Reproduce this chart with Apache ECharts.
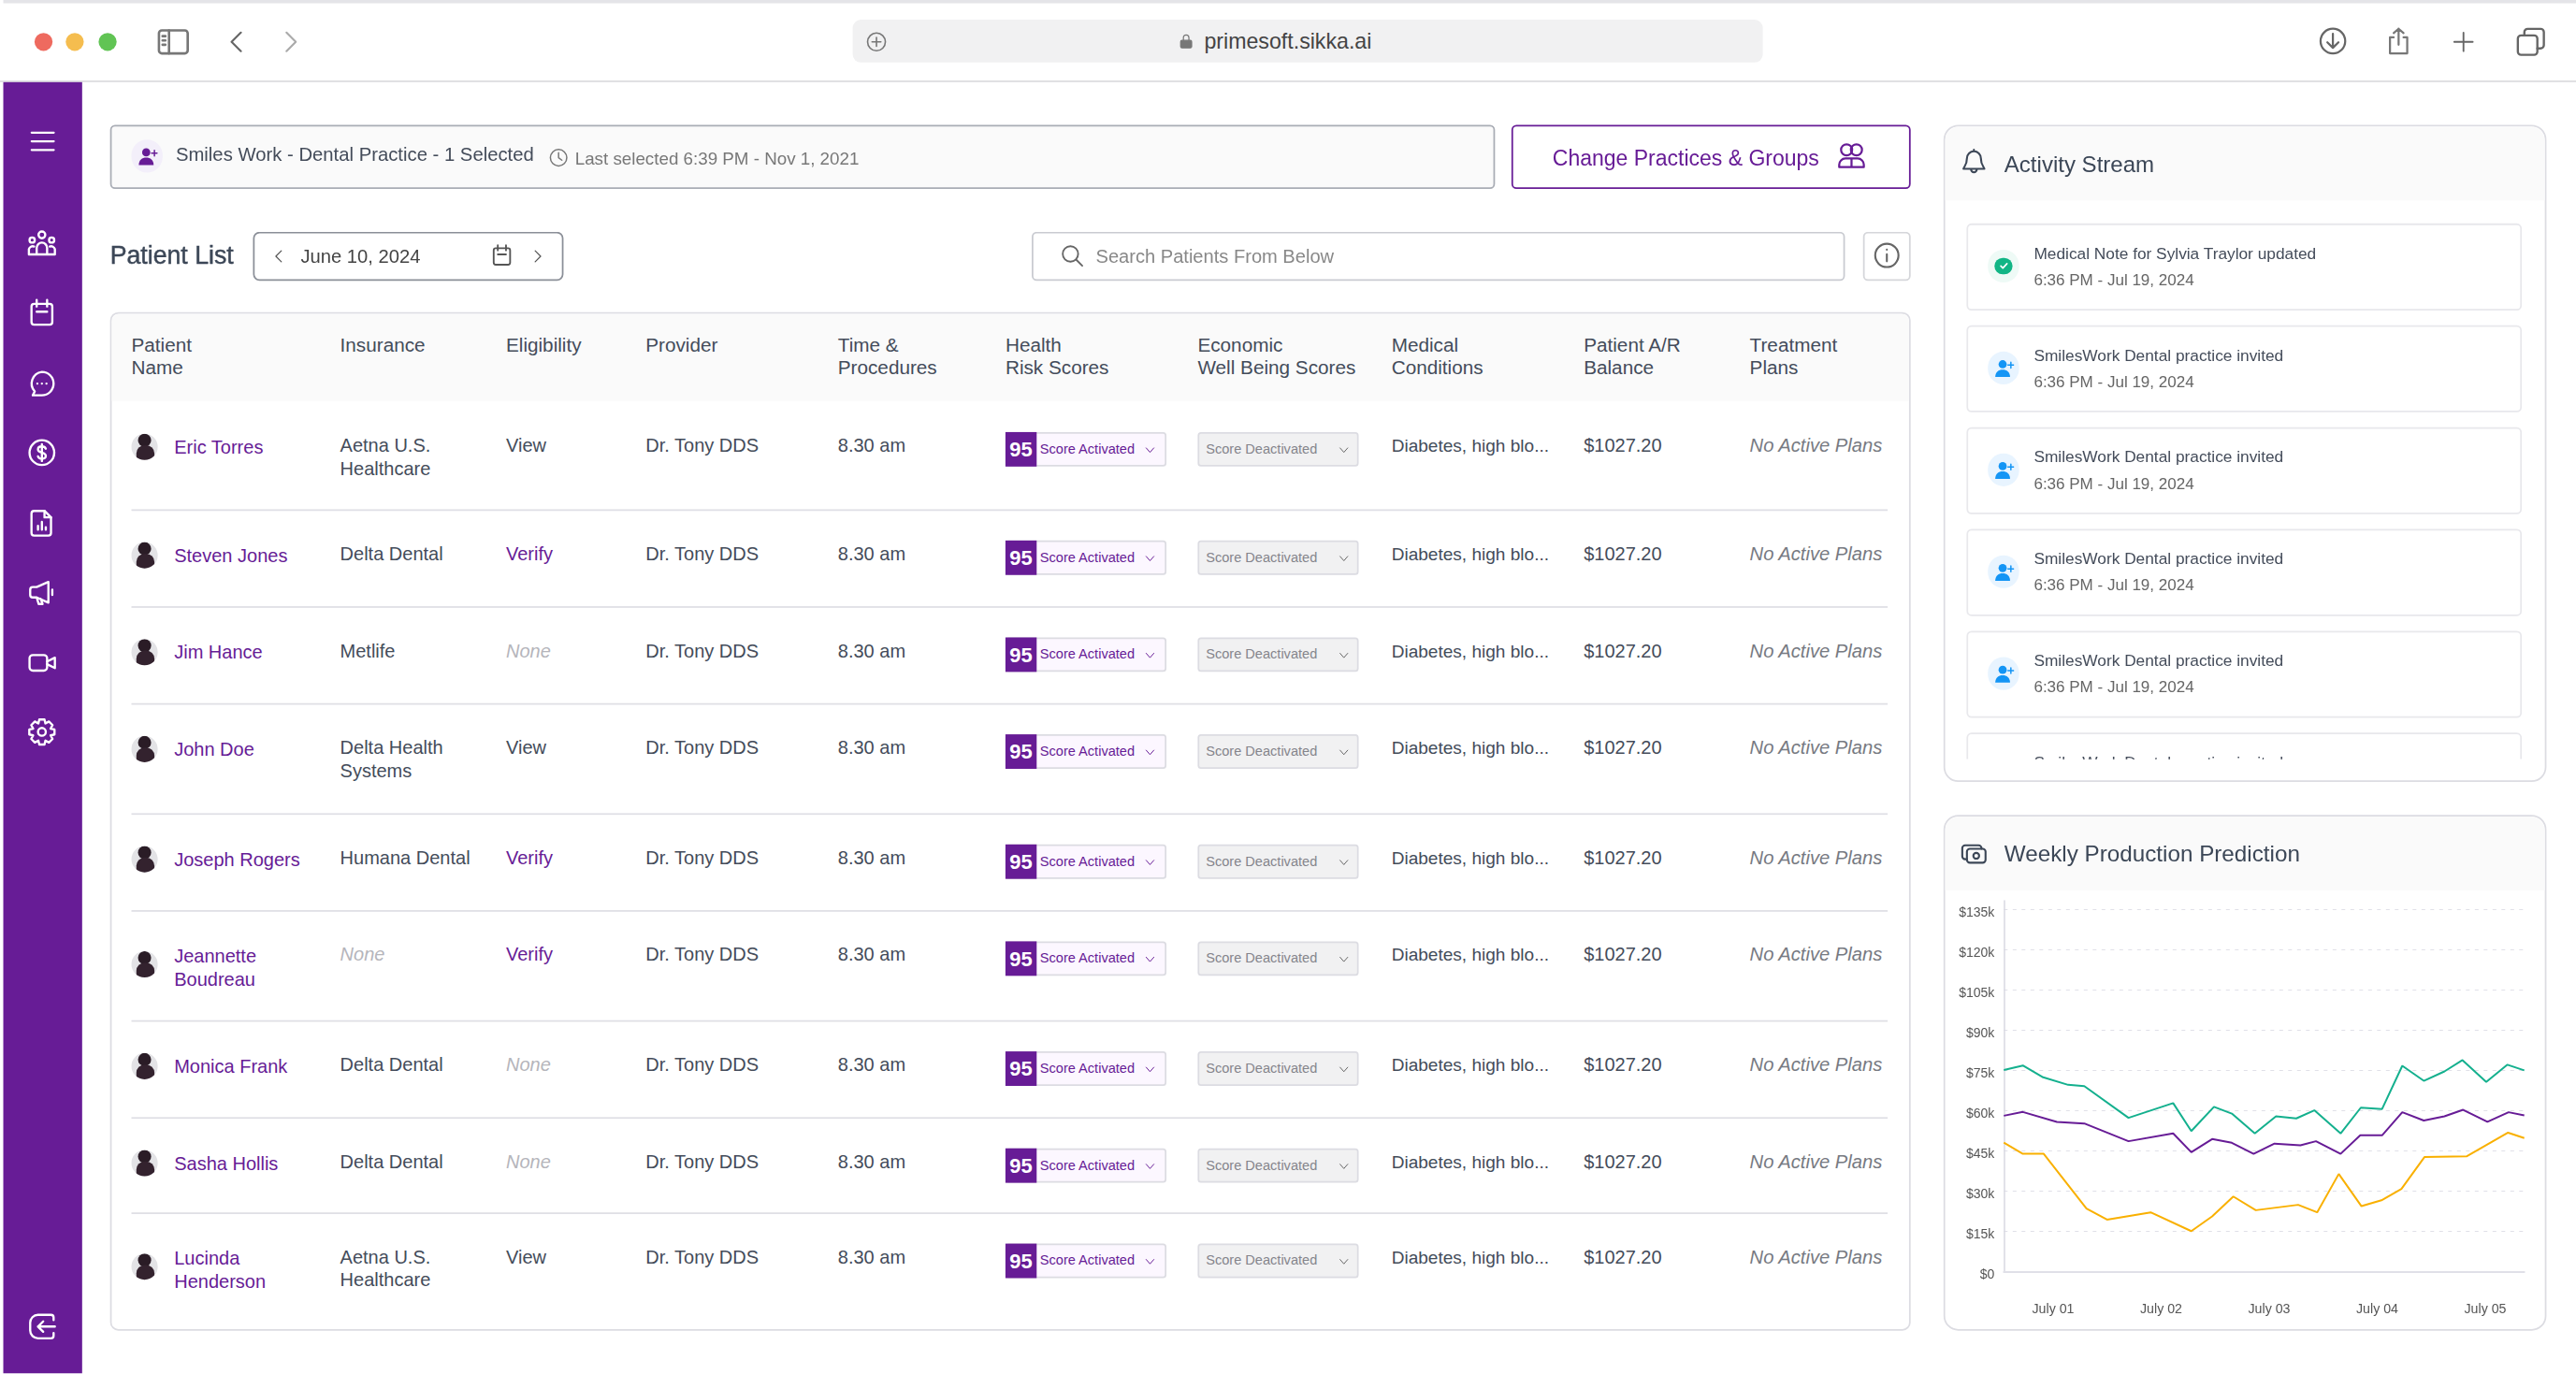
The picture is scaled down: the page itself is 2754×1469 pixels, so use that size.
<!DOCTYPE html>
<html>
<head>
<meta charset="utf-8">
<title>Patient List</title>
<script src="https://cdn.jsdelivr.net/npm/echarts@6/dist/echarts.min.js"></script>
<style>
html,body{margin:0;padding:0;background:#fff;width:2754px;height:1469px;overflow:hidden;font-family:"Liberation Sans",Arial,sans-serif;}
#ui{position:absolute;left:0;top:0;width:1568px;height:836.4px;transform:scale(1.7564);transform-origin:0 0;overflow:hidden;}
#ui div,#ui span,#ui svg{position:absolute;box-sizing:border-box;}
#ui span{white-space:nowrap;transform:translateY(-50%);}
#chart{position:absolute;left:2072px;top:950px;width:680px;height:470px;}
</style>
</head>
<body>
<div id="ui"></div>
<div id="chart"></div>
<script>
// chart values (x = day of July, y = $k)
var xLabels = ['July 01','July 02','July 03','July 04','July 05'];
var xTicks = [1,2,3,4,5];
var greenDays = [.544,.72,.908,1.139,1.289,1.698,2.111,2.279,2.489,2.654,2.867,3.063,3.251,3.418,3.661,3.848,4.045,4.232,4.431,4.622,4.789,5.009,5.205,5.361];
var greenValues = [75,76.7,72.3,69.5,69,57.2,62.7,52.3,61.3,58.8,51.4,57.8,57,60,51.4,61,60.5,76.6,71,74.5,78.7,70.6,77,74.9];
var purpleDays = [.544,.72,1.035,1.289,1.698,2.111,2.279,2.472,2.654,2.856,3.049,3.289,3.433,3.661,3.843,4.045,4.232,4.431,4.622,4.795,5.02,5.216,5.361];
var purpleValues = [58,59.4,55.7,55.1,48.5,51.4,44.4,49.3,47.9,43.8,47.6,47,48.5,43.8,50.7,50.7,59.3,56.2,57.8,60.2,55.7,59.3,58.1];
var yellowDays = [.544,.72,.913,1.309,1.499,1.903,2.279,2.472,2.668,2.876,3.268,3.444,3.644,3.854,4.039,4.224,4.437,4.83,5.211,5.361];
var yellowValues = [48,43.8,43.8,23.4,19.3,22,15,20.5,27.9,22.8,24.8,22,36.3,24.3,26.5,30.7,42.6,42.9,51.7,49.7];

// table text
var headers = [['Patient','Name'],['Insurance'],['Eligibility'],['Provider'],['Time &','Procedures'],['Health','Risk Scores'],['Economic','Well Being Scores'],['Medical','Conditions'],['Patient A/R','Balance'],['Treatment','Plans']];
var patients = [['Eric Torres'],['Steven Jones'],['Jim Hance'],['John Doe'],['Joseph Rogers'],['Jeannette','Boudreau'],['Monica Frank'],['Sasha Hollis'],['Lucinda','Henderson']];
var insurance = [['Aetna U.S.','Healthcare'],['Delta Dental'],['Metlife'],['Delta Health','Systems'],['Humana Dental'],null,['Delta Dental'],['Delta Dental'],['Aetna U.S.','Healthcare']];
var eligibility = ['View','Verify','None','View','Verify','Verify','None','None','View'];
var activity = ['Medical Note for Sylvia Traylor updated','SmilesWork Dental practice invited','SmilesWork Dental practice invited','SmilesWork Dental practice invited','SmilesWork Dental practice invited','SmilesWork Dental practice invited'];

var ui = document.getElementById('ui');
var purple = '#671c96';
var cellSize = 11.4;

function box(x,y,w,h,css,parent){
    var d = document.createElement('div');
    d.style.cssText = 'left:'+x+'px;top:'+y+'px;width:'+w+'px;height:'+h+'px;'+(css||'');
    (parent||ui).appendChild(d);
    return d;
}
function text(x,y,str,size,color,css,parent){
    var s = document.createElement('span');
    s.textContent = str;
    s.style.cssText = 'left:'+x+'px;top:'+y+'px;font-size:'+size+'px;color:'+color+';'+(css||'');
    (parent||ui).appendChild(s);
    return s;
}
// svg icon centred on x,y, drawn in a 24 box
function icon(x,y,size,color,inner,parent){
    var holder = document.createElement('div');
    holder.style.cssText = 'left:'+(x-size/2)+'px;top:'+(y-size/2)+'px;width:'+size+'px;height:'+size+'px;';
    holder.innerHTML = '<svg viewBox="0 0 24 24" width="'+size+'" height="'+size+'" style="left:0;top:0" fill="none" stroke="'+color+'" stroke-width="1.7" stroke-linecap="round" stroke-linejoin="round">'+inner+'</svg>';
    (parent||ui).appendChild(holder);
}

var icons = {
    menu:'<path d="M3 5h18M3 12h18M3 19h18"/>',
    people:'<circle cx="12" cy="5" r="2.6"/><circle cx="4.5" cy="9" r="2"/><circle cx="19.5" cy="9" r="2"/><path d="M8 20v-5a4 4 0 0 1 8 0v5zM2 20v-4a3 3 0 0 1 4-2M22 20v-4a3 3 0 0 0-4-2M2 20h20"/>',
    calendar:'<rect x="4" y="5" width="16" height="16" rx="2"/><path d="M8 2v5M16 2v5M8 11h8"/>',
    chat:'<path d="M12 3a9 9 0 0 1 0 18H5l1.5-3A9 9 0 0 1 12 3z"/><path d="M8.5 12h.01M12 12h.01M15.5 12h.01"/>',
    dollar:'<circle cx="12" cy="12" r="9.5"/><path d="M15 9c-.5-1.2-1.600-1.800-3-1.800-1.800 0-3 .9-3 2.300 0 3.200 6 1.700 6 5 0 1.400-1.300 2.300-3 2.300-1.500 0-2.600-.7-3-1.900M12 5.500v13"/>',
    report:'<path d="M6 2.500h8l5 5v12a2 2 0 0 1-2 2H6a2 2 0 0 1-2-2v-15a2 2 0 0 1 2-2z"/><path d="M14 2.500v5h5M9 17v-3M12 17v-6M15 17v-2"/>',
    mega:'<path d="M3 10v4a2 2 0 0 0 2 2h3l9 4V4L8 8H5a2 2 0 0 0-2 2zM8 16l1.500 5h3L11 17M20 10v4"/>',
    video:'<rect x="2.500" y="6" width="13.500" height="12" rx="2.500"/><path d="M16 11l6-3v8l-6-3"/>',
    gear:'<circle cx="12" cy="12" r="3"/><path d="M10 2.500h4l.7 3 2.700-1.500 2.800 2.800L18.700 9.500l3 .7v3.800l-3 .7 1.500 2.700-2.800 2.800-2.700-1.500-.7 3h-4l-.7-3-2.700 1.500-2.800-2.800 1.500-2.700-3-.7v-3.800l3-.7L3.800 6.800 6.600 4l2.700 1.500z"/>',
    logout:'<path d="M21 7V5a2 2 0 0 0-2-2H9a6 6 0 0 0-6 6v6a6 6 0 0 0 6 6h10a2 2 0 0 0 2-2v-2"/><path d="M22 12H9M13 8l-4 4 4 4"/>',
    chevL:'<path d="M15 4l-8 8 8 8"/>',
    chevR:'<path d="M9 4l8 8-8 8"/>',
    chevD:'<path d="M5 8l7 8 7-8"/>',
    sidebar:'<rect x="2" y="4" width="20" height="16" rx="2"/><path d="M9 4v16M4.500 8h2M4.500 11h2M4.500 14h2"/>',
    plusC:'<circle cx="12" cy="12" r="10"/><path d="M12 7v10M7 12h10"/>',
    download:'<circle cx="12" cy="12" r="10"/><path d="M12 6v11M7.500 13l4.500 4.500 4.500-4.500"/>',
    share:'<path d="M8 9H5v13h14V9h-3M12 15V2M8 5.500L12 2l4 3.500"/>',
    plus:'<path d="M12 3v18M3 12h18"/>',
    tabs:'<rect x="2" y="7" width="15" height="15" rx="2.500"/><path d="M7 7V4.500A2.500 2.500 0 0 1 9.500 2h10A2.500 2.500 0 0 1 22 4.500v10a2.500 2.500 0 0 1-2.500 2.500H17"/>',
    clock:'<circle cx="12" cy="12" r="10"/><path d="M12 6v6l4 3"/>',
    group:'<circle cx="8" cy="7" r="4.500"/><circle cx="16" cy="7" r="4.500"/><path d="M2 21v-2a5 5 0 0 1 5-5h10a5 5 0 0 1 5 5v2zM12 14v7"/>',
    search:'<circle cx="10.500" cy="10.500" r="7.500"/><path d="M16 16l6 6"/>',
    info:'<circle cx="12" cy="12" r="10"/><path d="M12 11v6M12 7h.01"/>',
    bell:'<path d="M12 3a6 6 0 0 0-6 6c0 6-2.500 7-3 9h18c-.5-2-3-3-3-9a6 6 0 0 0-6-6zM12 3V1.500M9.500 18.500a2.500 2.500 0 0 0 5 0"/>',
    camera:'<path d="M6 17H4.500A2.500 2.500 0 0 1 2 14.500v-7A2.500 2.500 0 0 1 4.500 5H16a2.500 2.500 0 0 1 2.500 2.500V8"/><rect x="6" y="8" width="16" height="12" rx="2.500"/><circle cx="14" cy="14" r="2.500"/>',
    check:'<path d="M6 12.500l4 4L18 8" stroke-width="3"/>'
};
var personAdd = '<circle cx="10" cy="7.500" r="5" fill="COLOR" stroke="none"/><path d="M1 23c0-6 4-9 9-9s9 3 9 9z" fill="COLOR" stroke="none"/><path d="M20 5v7M16.500 8.500h7" stroke="COLOR"/>';

// browser bar
box(2,0,1566,1.5,'background:#e4e4e8;');
box(0,49,1568,1,'background:#dcdce0;');
[[26,'#ee6a5f'],[45,'#f5bd4f'],[65,'#61c454']].forEach(function(l){
    box(l[0]-5.5,19.5,11,11,'border-radius:50%;background:'+l[1]+';');
});
icon(105,25,21,'#777',icons.sidebar);
icon(144,25,17,'#666',icons.chevL);
icon(176,25,17,'#aaa',icons.chevR);
box(519,12,554,26,'background:#f1f1f2;border-radius:5px;');
icon(533,25,13,'#777',icons.plusC);
icon(722,25,10,'#777','<rect x="4" y="11" width="16" height="11" rx="2" fill="#777"/><path d="M8 11V7a4 4 0 0 1 8 0v4"/>');
text(733,24.5,'primesoft.sikka.ai',13.2,'#444');
icon(1420,25,18,'#666',icons.download);
icon(1460,25,18,'#777',icons.share);
icon(1499,25,15,'#666',icons.plus);
icon(1540,25,19,'#666',icons.tabs);

// sidebar
box(2,50,48,787,'background:'+purple+';');
[[85.5,'menu',18],[148,'people',19],[190,'calendar',19],[233,'chat',19],[275,'dollar',19],[318,'report',19],[360,'mega',19],[403,'video',19],[445,'gear',19],[807,'logout',19]].forEach(function(s){
    icon(25.7,s[0],s[2],'#fff',icons[s[1]]);
});

// selected practice strip
box(67,76,843,38.500,'background:#fafafa;border:1px solid #a9adb5;border-radius:3px;');
box(79.700,85.300,19.400,19.400,'background:#f3effa;border-radius:50%;');
icon(89.500,95,12,purple,personAdd.replace(/COLOR/g,purple));
text(107,93.500,'Smiles Work - Dental Practice - 1 Selected',11.55,'#444c5a');
icon(340,95.500,12,'#777',icons.clock);
text(350,96.200,'Last selected 6:39 PM - Nov 1, 2021',10.7,'#777');
box(920,76,242.500,38.500,'background:#fff;border:1px solid '+purple+';border-radius:3px;');
text(945,96.200,'Change Practices & Groups',13.1,purple);
icon(1127,95,18,purple,icons.group);

// patient list title row
text(67,155,'Patient List',15.2,'#3c4757','-webkit-text-stroke:.25px #3c4757;');
box(154,141,189,29.500,'background:#fff;border:1px solid #8b8f98;border-radius:4px;');
icon(170,155.500,10,'#555',icons.chevL);
text(183,156,'June 10, 2024',11.5,'#444');
icon(305.500,155.500,15,'#555',icons.calendar);
icon(327,155.500,10,'#555',icons.chevR);
box(628,141,495,29.500,'background:#fff;border:1px solid #c9cbd1;border-radius:3px;');
icon(652,155.500,15,'#666',icons.search);
text(667,156,'Search Patients From Below',11.45,'#888');
box(1134,141,28.500,29.500,'background:#fff;border:1px solid #d5d6da;border-radius:3px;');
icon(1148,155.500,17,'#666',icons.info);

// table
var rowTops = [244,310,369,428,495,554,621,680,738];
var colX = [80,207,308,393,510,612,729,847,964,1065];
box(67,190,1095.500,619.500,'background:#fff;border:1px solid #dcdce2;border-radius:5px;');
box(68,191,1093.500,53,'background:#fafafa;border-radius:5px 5px 0 0;');
headers.forEach(function(h,i){
    h.forEach(function(line,j){
        text(colX[i],210+j*13.900,line,11.8,'#444c5a');
    });
});
patients.forEach(function(name,i){
    var top = rowTops[i];
    var two = name.length>1;
    if(i>0) box(80,top-.5,1069,1,'background:#dfdfe5;');
    // avatar
    var ay = top+(two?32.500:27.500);
    var av = box(80,ay-8,16,16,'border-radius:50%;background:#e3e3e6;overflow:hidden;');
    box(4,.5,8,8,'border-radius:50%;background:#2a1c26;',av);
    box(2.500,7,11,10,'border-radius:5px 5px 0 0;background:#33222e;',av);
    name.forEach(function(line,j){
        text(106,top+28+j*13.700,line,cellSize,purple);
    });
    if(insurance[i]){
        insurance[i].forEach(function(line,j){
            text(207,top+27+j*13.700,line,cellSize,'#444c5a');
        });
    } else {
        text(207,top+27,'None',cellSize,'#b5b5bb','font-style:italic;');
    }
    var el = eligibility[i];
    text(308,top+27,el,cellSize,el=='Verify'?purple:(el=='None'?'#b5b5bb':'#444c5a'),el=='None'?'font-style:italic;':'');
    text(393,top+27,'Dr. Tony DDS',cellSize,'#444c5a');
    text(510,top+27,'8.30 am',cellSize,'#444c5a');
    // score badges
    var by = top+19.300;
    box(612,by,98,21,'background:#fcf7ff;border:1px solid #dcdce2;border-radius:2px;');
    box(612,by,19,21,'background:'+purple+';');
    text(614.500,by+11,'95',12.500,'#fff','font-weight:bold;');
    text(633,by+9.500,'Score Activated',8.300,purple);
    icon(700,by+10.500,8,purple,icons.chevD);
    box(729,by,98,21,'background:#f1f1f2;border:1px solid #dcdce2;border-radius:2px;');
    text(734,by+10,'Score Deactivated',8.300,'#85858c');
    icon(817.500,by+10.500,8,'#666',icons.chevD);
    text(847,top+27,'Diabetes, high blo...',10.850,'#444c5a');
    text(964,top+27,'$1027.20',cellSize,'#444c5a');
    text(1065,top+27,'No Active Plans',11.5,'#777a82','font-style:italic;');
});

// activity stream
box(1183,76,366.500,400,'background:#fff;border:1px solid #dcdce2;border-radius:9px;overflow:hidden;');
box(1184,77,364.500,45,'background:#fafafa;border-radius:9px 9px 0 0;');
icon(1201,98.500,17,'#3c4757',icons.bell);
text(1220,100,'Activity Stream',13.7,'#3c4757');
var feed = box(1184,122,364,340,'overflow:hidden;');
activity.forEach(function(line,i){
    var top = 14+i*62;
    box(13,top,337.500,52.500,'background:#fff;border:1px solid #e8e8ec;border-radius:3px;',feed);
    var done = i==0;
    box(25.800,top+16.300,19.400,19.400,'border-radius:50%;background:'+(done?'#eefaf6':'#e8f4ff')+';',feed);
    if(done){
        box(30.100,top+20.600,10.800,10.800,'border-radius:50%;background:#11b585;',feed);
        icon(35.500,top+26,7.500,'#fff',icons.check,feed);
    } else {
        icon(35.500,top+26,12,'#1495f5',personAdd.replace(/COLOR/g,'#1495f5'),feed);
    }
    text(54,top+17.500,line,9.850,'#444c5a','',feed);
    // the last entry is scrolled away below its first line
    if(i<activity.length-1) text(54,top+33.500,'6:36 PM - Jul 19, 2024',9.700,'#666','',feed);
});

// weekly production card
box(1183,496,366.500,313.500,'background:#fff;border:1px solid #dcdce2;border-radius:9px;');
box(1184,497,364.500,45,'background:#fafafa;border-radius:9px 9px 0 0;');
icon(1201,519,17,'#3c4757',icons.camera);
text(1220,520,'Weekly Production Prediction',13.8,'#3c4757');

function pairs(days,values){
    return days.map(function(d,i){ return [d,values[i]]; });
}

var chart = echarts.init(document.getElementById('chart'));
chart.setOption({
    animation:false,
    grid:{left:70.3,top:13,width:556.4,height:396.3},
    xAxis:{
        type:'value',
        min:.544,
        max:5.361,
        splitLine:{show:false},
        axisTick:{show:false},
        axisLine:{onZero:false,lineStyle:{color:'#e0e0e8',width:2}},
        axisLabel:{
            customValues:xTicks,
            formatter:function(v){ return xLabels[xTicks.indexOf(v)]; },
            color:'#555',
            fontSize:14.2,
            fontFamily:'Liberation Sans',
            margin:34
        }
    },
    yAxis:{
        type:'value',
        min:0,
        max:138.1,
        interval:15,
        axisTick:{show:false},
        axisLine:{show:true,onZero:false,lineStyle:{color:'#d8d8e2',width:1.5}},
        splitLine:{showMaxLine:false,showMinLine:false,lineStyle:{color:'#e0e0e8',width:1,type:[4,5.5]}},
        axisLabel:{
            showMaxLabel:false,
            formatter:function(v){ return v==0?'$0':'$'+v+'k'; },
            color:'#555',
            fontSize:14,
            fontFamily:'Liberation Sans',
            verticalAlign:'top',
            lineHeight:8,
            margin:10
        }
    },
    series:[
        {name:'green',type:'line',symbol:'none',data:pairs(greenDays,greenValues),lineStyle:{color:'#14b08e',width:2}},
        {name:'purple',type:'line',symbol:'none',data:pairs(purpleDays,purpleValues),lineStyle:{color:'#671c96',width:2}},
        {name:'yellow',type:'line',symbol:'none',data:pairs(yellowDays,yellowValues),lineStyle:{color:'#f9b000',width:2}}
    ]
});
</script>
</body>
</html>
